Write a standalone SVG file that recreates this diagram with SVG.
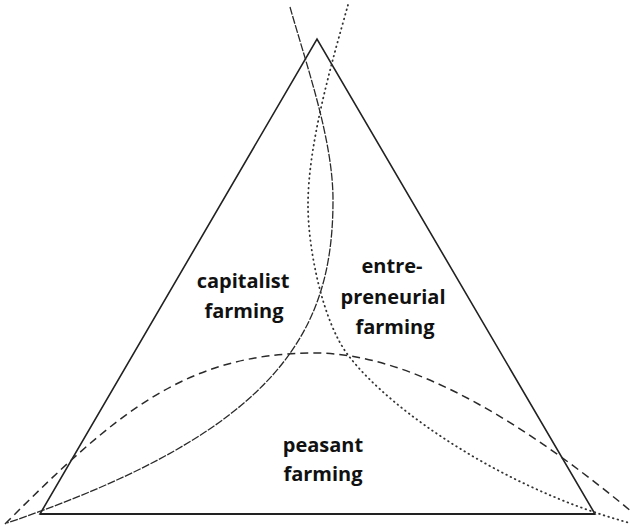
<svg xmlns="http://www.w3.org/2000/svg" width="632" height="530" viewBox="0 0 632 530">
<style>
.lbl{font-family:"Open Sans","Liberation Sans",sans-serif;font-weight:bold;font-size:20px;fill:#111;text-anchor:middle}
.tri{fill:none;stroke:#222;stroke-width:1.6;stroke-linejoin:miter}
.cap{fill:none;stroke:#2a2a2a;stroke-width:1.3;stroke-dasharray:8 1.5}
.ent{fill:none;stroke:#333;stroke-width:1.8;stroke-linecap:round;stroke-dasharray:0.6 4.2}
.pea{fill:none;stroke:#2a2a2a;stroke-width:1.5;stroke-dasharray:8 5}
</style>
<rect width="632" height="530" fill="#fff"/>
<g id="triangle">
<path class="tri" d="M40,514 L317,39 L595,514 Z"/>
<line x1="40" y1="514" x2="595" y2="514" stroke="#222" stroke-width="2.2"/>
</g>
<g id="connectors">
<path class="cap" d="M290,7 C307,67 333,140 333,200 C333,330 280,430 7,523"/>
<path class="ent" d="M348,5 C331,65 308,145 308,205 C308,250 323,322 348,355 C393,414 510,491 630,523"/>
<path class="pea" d="M5,524 C115,414 185,353 315,353 C415,353 532,429 632,512"/>
</g>
<g id="capitalist">
<text class="lbl" x="243" y="288">capitalist</text>
<text class="lbl" x="244" y="318">farming</text>
</g>
<g id="entrepreneurial">
<text class="lbl" x="392" y="273">entre-</text>
<text class="lbl" x="393" y="304">preneurial</text>
<text class="lbl" x="395" y="334">farming</text>
</g>
<g id="peasant">
<text class="lbl" x="323" y="452">peasant</text>
<text class="lbl" x="323" y="481">farming</text>
</g>
</svg>
